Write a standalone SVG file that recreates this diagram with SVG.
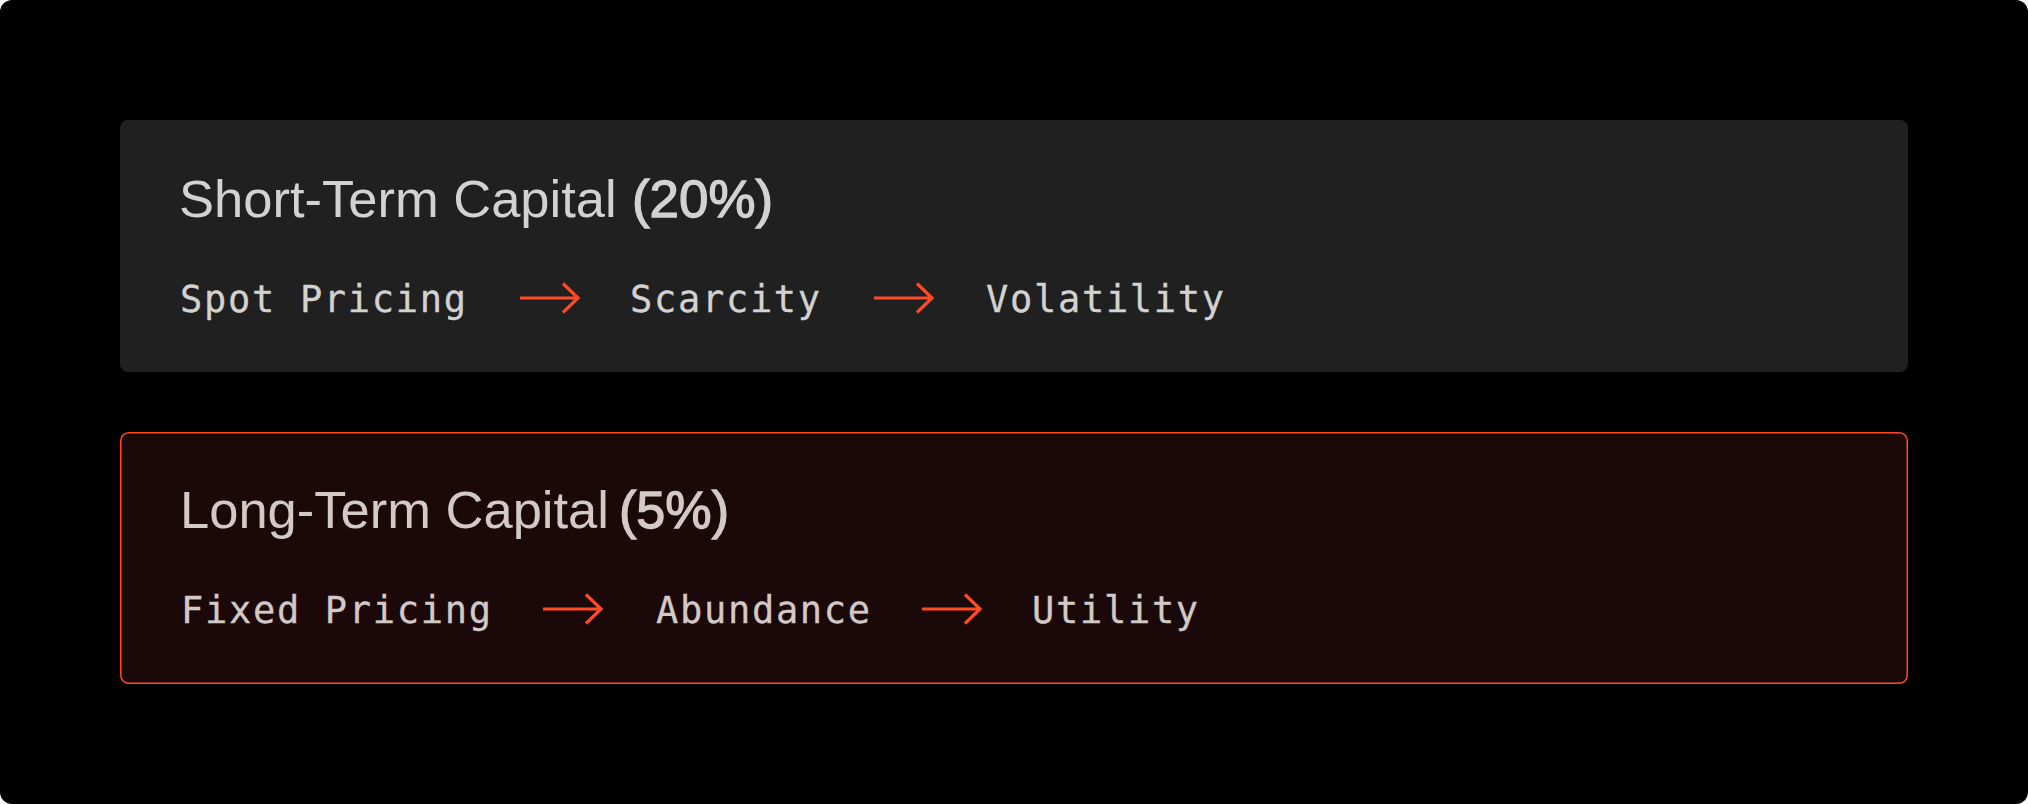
<svg xmlns="http://www.w3.org/2000/svg" width="2028" height="804" viewBox="0 0 2028 804">
  <style>
    .title { font-family: "Liberation Sans", Arial, sans-serif; font-size: 52.5px; fill: #d2d2d2; }
    .pct { stroke: #d2d2d2; stroke-width: 1.3px; }
    .mono { font-family: "DejaVu Sans Mono", "Liberation Mono", monospace; font-size: 37px; letter-spacing: 1.7px; fill: #d2d2d2; stroke: #d2d2d2; stroke-width: 0.3px; }
    .warm { fill: #d3c9c7; stroke: #d3c9c7; }
    .title.warm { stroke: none; }
    .title.warm.pct { stroke: #d3c9c7; }
    .arrow { fill: none; stroke: #ff4a26; stroke-width: 3.2; stroke-linejoin: miter; }
  </style>
  <rect x="0" y="0" width="2028" height="804" fill="#ffffff"/>
  <rect x="0" y="0" width="2028" height="804" rx="12" fill="#000000"/>

  <g id="short-term">
    <rect x="120" y="120" width="1788" height="252" rx="8" fill="#202020"/>
    <text class="title" x="179" y="217">Short-Term Capital</text>
    <text class="title pct" x="632" y="217" textLength="141" lengthAdjust="spacingAndGlyphs">(20%)</text>
    <text class="mono" x="180" y="312">Spot Pricing</text>
    <text class="mono" x="630" y="312">Scarcity</text>
    <text class="mono" x="986" y="312">Volatility</text>
  </g>

  <g id="long-term">
    <rect x="120.75" y="432.75" width="1786.5" height="250.5" rx="8" fill="#1a0908" stroke="#ff4a26" stroke-width="1.5"/>
    <text class="title warm" x="180" y="528">Long-Term Capital</text>
    <text class="title warm pct" x="619" y="528" textLength="110" lengthAdjust="spacingAndGlyphs">(5%)</text>
    <text class="mono warm" x="181" y="623">Fixed Pricing</text>
    <text class="mono warm" x="656" y="623">Abundance</text>
    <text class="mono warm" x="1032" y="623">Utility</text>
  </g>

  <g id="connectors">
    <path class="arrow" d="M520 298 H579 M563 283.5 L578 298 L563 312.5"/>
    <path class="arrow" d="M874 298 H933 M917 283.5 L932 298 L917 312.5"/>
    <path class="arrow" d="M543 609 H602 M586 594.5 L601 609 L586 623.5"/>
    <path class="arrow" d="M922 609 H981 M965 594.5 L980 609 L965 623.5"/>
  </g>
</svg>
